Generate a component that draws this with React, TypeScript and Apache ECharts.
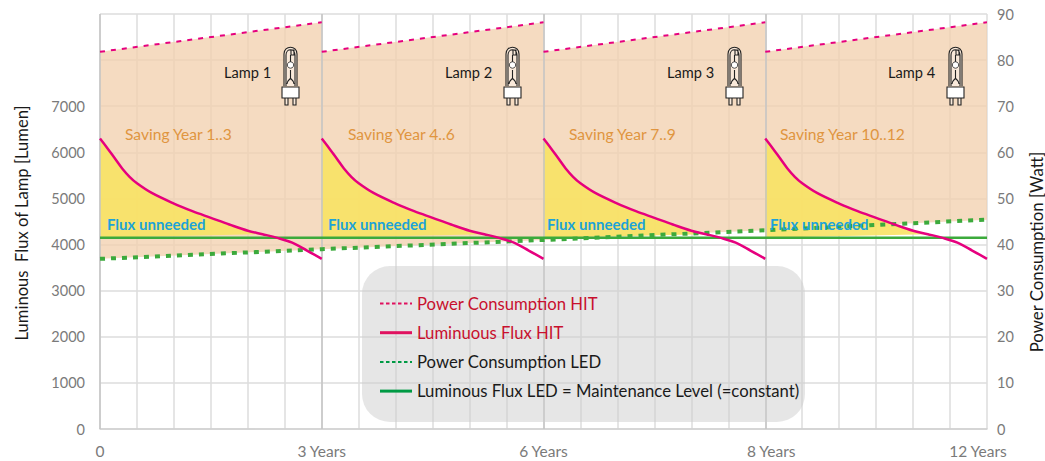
import React, { useEffect, useRef } from "react";
import * as echarts from "echarts";

const lampStarts = [0, 3, 6, 9];
const lampYears = 3;
const xTickLabels: Record<number, string> = { 0: "0", 3: "{a|3 Years}", 6: "{a|6 Years}", 9: "{c|8 Years}", 12: "{d|12 Years}" };
const curveYears = [0, 0.1, 0.2, 0.3, 0.4, 0.5, 0.7, 1, 1.25, 1.5, 1.75, 2, 2.2, 2.4, 2.6, 2.8, 3];
const curveFlux = [6300, 6090, 5870, 5650, 5470, 5330, 5120, 4890, 4725, 4580, 4435, 4300, 4225, 4145, 4040, 3870, 3690];
const hitPowerStart = [81.8, 81.8, 81.8, 81.8];
const hitPowerEnd = [88.2, 88.2, 88.2, 88.2];
const ledPowerYears = [0, 3, 6, 9, 12];
const ledPower = [36.9, 39, 41, 43.1, 45.4];
const ledFlux = 4150;

const savingLabels = ["Saving Year 1..3", "Saving Year 4..6", "Saving Year 7..9", "Saving Year 10..12"];
const lampLabels = ["Lamp 1", "Lamp 2", "Lamp 3", "Lamp 4"];
const savingX = [125, 348, 569, 780];
const lampX = [224, 445, 667, 888];
const fluxX = [107, 328, 547, 770];
const iconX = [282, 504, 726, 947];

const NAMES = ["Power Consumption HIT", "Luminuous Flux HIT", "Power Consumption LED", "Luminous Flux LED = Maintenance Level (=constant)"];
const FONT = "Lato, Carlito, sans-serif";

const LAMP_D =
  "M2 40 L2 8 C2 -1 15 -1 15 8 L15 40 M4 40 L4 9 C4 2 13 2 13 9 L13 40 " +
  "M3 52 L3 59 L6 59 L6 52 M11 52 L11 59 L14 59 L14 52 " +
  "M8.5 9 L8.5 16 M8.5 24 L8.5 32 M5 38 C5 34 8 34 8.5 32 C9 34 12 34 12 38 M9 4 L12 4 L12 9 L9 9 Z";
echarts.graphic.registerShape("lampIcon", (echarts.graphic as any).extendPath(LAMP_D, {}));

const DOTTED_ICON = "path://M0 6 H3.5 V8 H0 Z M6 6 H9.5 V8 H6 Z M12 6 H15.5 V8 H12 Z M18 6 H21.5 V8 H18 Z M24 6 H27.5 V8 H24 Z M30 6 H32 V8 H30 Z";
const SOLID_ICON = "path://M0 5.5 H32 V8.5 H0 Z";

export default function App() {
  const ref = useRef<HTMLDivElement>(null);
  useEffect(() => {
    document.body.style.margin = "0";
    const chart = echarts.init(ref.current!, undefined, { renderer: "svg" });

    const fluxData: any[] = [];
    lampStarts.forEach((s, i) => {
      curveYears.forEach((y, k) => fluxData.push([s + y, curveFlux[k]]));
      if (i < lampStarts.length - 1) fluxData.push([s + lampYears, null]);
    });
    const powerData: any[] = [];
    lampStarts.forEach((s, i) => {
      powerData.push([s, hitPowerStart[i]], [s + lampYears, hitPowerEnd[i]]);
      if (i < lampStarts.length - 1) powerData.push([s + lampYears, null]);
    });

    const peach = (params: any, api: any) => {
      const i = params.dataIndex;
      const s = lampStarts[i];
      const pts = [
        api.coord([s, ledPower[i]]),
        api.coord([s + lampYears, ledPower[i + 1]]),
        api.coord([s + lampYears, hitPowerEnd[i]]),
        api.coord([s, hitPowerStart[i]]),
      ];
      return { type: "polygon", shape: { points: pts }, style: { fill: "rgba(242,209,176,0.78)" } };
    };
    const yellow = (params: any, api: any) => {
      const s = lampStarts[params.dataIndex];
      const pts: number[][] = [api.coord([s, ledFlux])];
      curveYears.forEach((y, k) => {
        if (curveFlux[k] >= ledFlux) pts.push(api.coord([s + y, curveFlux[k]]));
      });
      return { type: "polygon", shape: { points: pts }, style: { fill: "rgba(248,226,100,0.9)" } };
    };

    const graphics: any[] = [
      { type: "rect", z: 20, shape: { x: 362, y: 266, width: 443, height: 156, r: 28 }, style: { fill: "rgba(205,205,205,0.5)" } },
      { type: "text", z: 30, x: 22, y: 223, rotation: Math.PI / 2, style: { text: "Luminous  Flux of Lamp [Lumen]", font: `16.6px ${FONT}`, fill: "#1a1a1a", align: "center", verticalAlign: "middle" } },
      { type: "text", z: 30, x: 1036, y: 252, rotation: Math.PI / 2, style: { text: "Power Consumption [Watt]", font: `16.8px ${FONT}`, fill: "#1a1a1a", align: "center", verticalAlign: "middle" } },
    ];
    lampStarts.forEach((_, i) => {
      graphics.push(
        { type: "text", z: 30, x: savingX[i], y: 134, style: { text: savingLabels[i], font: `15.6px ${FONT}`, fill: "#E0953F", verticalAlign: "middle" } },
        { type: "text", z: 30, x: lampX[i], y: 72, style: { text: lampLabels[i], font: `14.6px ${FONT}`, fill: "#1a1a1a", verticalAlign: "middle" } },
        { type: "text", z: 30, x: fluxX[i], y: 224, style: { text: "Flux unneeded", font: `bold 15px ${FONT}`, fill: "#1CA3D8", verticalAlign: "middle" } },
        { type: "lampIcon", z: 30, x: iconX[i], y: 46, style: { fill: "rgba(255,255,255,0.4)", stroke: "#222222", lineWidth: 1.1 } },
        { type: "rect", z: 31, shape: { x: iconX[i], y: 87, width: 17, height: 11 }, style: { fill: "#ffffff", stroke: "#222222", lineWidth: 1.1 } },
        { type: "circle", z: 31, shape: { cx: iconX[i] + 8.5, cy: 65, r: 3.2 }, style: { fill: "#ffffff", stroke: "#222222", lineWidth: 0.8 } },
      );
    });

    chart.setOption({
      animation: false,
      textStyle: { fontFamily: FONT },
      grid: { left: 100, right: 58, top: 14, bottom: 32 },
      xAxis: {
        type: "value", min: 0, max: 12, interval: 0.5,
        axisLine: { lineStyle: { color: "#d0d0d0", width: 1.5 }, onZero: false },
        axisTick: { show: false },
        axisLabel: {
          color: "#7a7a7a", fontSize: 15.5, margin: 14, showMaxLabel: true,
          formatter: (v: number) => xTickLabels[v] ?? "",
          rich: {
            a: { color: "#7a7a7a", fontSize: 15.5, fontFamily: FONT },
            c: { color: "#7a7a7a", fontSize: 15.5, fontFamily: FONT, padding: [0, 0, 0, 12] },
            d: { color: "#7a7a7a", fontSize: 15.5, fontFamily: FONT, padding: [0, 18, 0, 0] },
          },
        },
        splitLine: { show: true, lineStyle: { color: "#dddddd", width: 1.5 } },
      },
      yAxis: [
        {
          type: "value", min: 0, max: 9000, interval: 1000,
          axisLine: { show: false }, axisTick: { show: false },
          axisLabel: { color: "#7a7a7a", fontSize: 14.5, margin: 15, formatter: (v: number) => (v > 7000 ? "" : String(v)) },
          splitLine: { show: true, lineStyle: { color: "#dddddd", width: 1.5 } },
        },
        {
          type: "value", min: 0, max: 90, interval: 10, position: "right",
          axisLine: { show: false }, axisTick: { show: false },
          axisLabel: { color: "#7a7a7a", fontSize: 14.5, margin: 10 },
          splitLine: { show: false },
        },
      ],
      legend: {
        orient: "vertical", left: 375, top: 290, itemWidth: 32, itemHeight: 14, itemGap: 12.2, itemStyle: { borderWidth: 0 },
        selectedMode: false, z: 40,
        textStyle: { fontFamily: FONT, fontSize: 16.7, color: "#1a1a1a" },
        data: [
          { name: NAMES[0], icon: DOTTED_ICON, itemStyle: { color: "#E0115F" }, textStyle: { color: "#C8102E" } },
          { name: NAMES[1], icon: SOLID_ICON, itemStyle: { color: "#E0115F" }, textStyle: { color: "#C8102E" } },
          { name: NAMES[2], icon: DOTTED_ICON, itemStyle: { color: "#009A44" } },
          { name: NAMES[3], icon: SOLID_ICON, itemStyle: { color: "#009A44" } },
        ],
      },
      series: [
        { type: "custom", name: "Saving", silent: true, z: 1, xAxisIndex: 0, yAxisIndex: 1, renderItem: peach, data: lampStarts.map((s) => [s]), encode: { x: 0 } },
        { type: "custom", name: "Flux unneeded", silent: true, z: 2, xAxisIndex: 0, yAxisIndex: 0, renderItem: yellow, data: lampStarts.map((s) => [s]), encode: { x: 0 } },
        {
          type: "line", name: "Boundaries", silent: true, z: 3, data: [],
          markLine: {
            silent: true, symbol: "none", label: { show: false },
            lineStyle: { color: "#c4c4c4", width: 1.5, type: "solid" },
            data: [{ xAxis: 0 }, { xAxis: 3 }, { xAxis: 6 }, { xAxis: 9 }],
          },
        },
        { type: "line", name: NAMES[2], yAxisIndex: 1, z: 5, symbol: "none", color: "#009A44", data: ledPowerYears.map((x, i) => [x, ledPower[i]]), lineStyle: { color: "#3CAA3C", width: 4, type: [5, 6] } },
        { type: "line", name: NAMES[3], yAxisIndex: 0, z: 6, symbol: "none", color: "#009A44", data: [[0, ledFlux], [12, ledFlux]], lineStyle: { color: "#3CAA3C", width: 2.5 } },
        { type: "line", name: NAMES[0], yAxisIndex: 1, z: 7, symbol: "none", color: "#E0115F", data: powerData, lineStyle: { color: "#E6007E", width: 2, type: [5, 6] } },
        { type: "line", name: NAMES[1], yAxisIndex: 0, z: 8, symbol: "none", smooth: 0.35, color: "#E0115F", data: fluxData, lineStyle: { color: "#E6007E", width: 2.5 } },
      ],
      graphic: graphics,
    });
    return () => chart.dispose();
  }, []);
  return <div ref={ref} style={{ width: 1045, height: 461 }} />;
}
